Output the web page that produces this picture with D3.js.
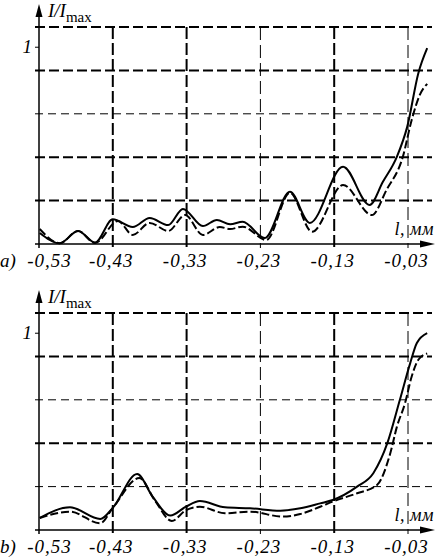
<!DOCTYPE html>
<html>
<head>
<meta charset="utf-8">
<script src="https://cdn.jsdelivr.net/npm/d3@7"></script>
<style>
    html, body { margin: 0; padding: 0; background: #fff; }
    svg text { font-family: "Liberation Serif", "Times New Roman", serif; fill: #000; }
</style>
</head>
<body>
<div id="chart"></div>
<script>
// axis ticks and grid levels
const xTicks = [-0.53, -0.43, -0.33, -0.23, -0.13, -0.03];
const yTicks = [1];
const gridLevels = [0.22, 0.44, 0.66, 0.88, 1.10];

// a) l (mm) vs I/Imax
const aSolidL = [-0.529, -0.502, -0.477, -0.454, -0.430, -0.403, -0.380, -0.355, -0.335, -0.308, -0.289, -0.271, -0.254, -0.224, -0.190, -0.163, -0.118, -0.082, -0.064, -0.045, -0.031, -0.016, -0.004];
const aSolidI = [0.056, 0.004, 0.066, 0.007, 0.125, 0.086, 0.132, 0.096, 0.178, 0.091, 0.122, 0.100, 0.113, 0.030, 0.265, 0.107, 0.392, 0.198, 0.315, 0.443, 0.595, 0.866, 0.993];
const aDashL = [-0.529, -0.502, -0.477, -0.454, -0.423, -0.403, -0.380, -0.355, -0.332, -0.308, -0.285, -0.271, -0.254, -0.222, -0.190, -0.160, -0.118, -0.079, -0.059, -0.037, -0.025, -0.014, -0.004];
const aDashI = [0.076, 0.004, 0.066, 0.005, 0.117, 0.046, 0.107, 0.066, 0.147, 0.046, 0.086, 0.076, 0.088, 0.020, 0.259, 0.062, 0.299, 0.147, 0.275, 0.442, 0.629, 0.756, 0.812];

// b)
const bSolidL = [-0.529, -0.488, -0.447, -0.430, -0.397, -0.376, -0.352, -0.331, -0.312, -0.278, -0.244, -0.203, -0.176, -0.149, -0.132, -0.099, -0.077, -0.058, -0.041, -0.027, -0.018, -0.004];
const bSolidI = [0.061, 0.115, 0.056, 0.112, 0.284, 0.169, 0.073, 0.118, 0.147, 0.115, 0.110, 0.098, 0.110, 0.135, 0.152, 0.220, 0.288, 0.440, 0.660, 0.846, 0.948, 0.998];
const bDashL = [-0.529, -0.488, -0.447, -0.430, -0.394, -0.373, -0.350, -0.331, -0.312, -0.278, -0.244, -0.200, -0.176, -0.149, -0.132, -0.099, -0.072, -0.054, -0.045, -0.034, -0.025, -0.016, -0.004];
const bDashI = [0.061, 0.093, 0.034, 0.112, 0.264, 0.150, 0.046, 0.100, 0.118, 0.085, 0.093, 0.068, 0.081, 0.118, 0.144, 0.186, 0.228, 0.389, 0.524, 0.643, 0.778, 0.863, 0.895];

const width = 436;
const height = 560;

const svg = d3.select('#chart')
    .append('svg')
    .attr('width', width)
    .attr('height', height);

const x = d3.scaleLinear()
    .domain([-0.53, -0.03])
    .range([39, 408]);

function drawPanel(p) {
    const y = d3.scaleLinear()
        .domain([0, 1.1])
        .range([p.bottom, p.bottom - 217]);

    const g = svg.append('g');

    // horizontal grid
    g.selectAll('line.hgrid')
        .data(gridLevels)
        .join('line')
        .attr('class', 'hgrid')
        .attr('x1', 35)
        .attr('x2', 432)
        .attr('y1', d => y(d))
        .attr('y2', d => y(d))
        .attr('stroke', '#000')
        .attr('stroke-width', (d, i) => p.heavyRows.includes(i) ? 2 : 1)
        .attr('stroke-dasharray', (d, i) => p.heavyRows.includes(i) ? '10,4' : '8,5');

    // vertical grid
    const heavyCols = [-0.43, -0.33, -0.13];
    g.selectAll('line.vgrid')
        .data(xTicks.slice(1))
        .join('line')
        .attr('class', 'vgrid')
        .attr('x1', d => x(d))
        .attr('x2', d => x(d))
        .attr('y1', y(1.1))
        .attr('y2', y(0) + 4)
        .attr('stroke', '#000')
        .attr('stroke-width', d => heavyCols.includes(d) ? 2 : 1)
        .attr('stroke-dasharray', d => heavyCols.includes(d) ? '12,4' : '13,5');

    // axes with arrows
    g.append('line')
        .attr('x1', 35).attr('x2', 424)
        .attr('y1', y(0)).attr('y2', y(0))
        .attr('stroke', '#000').attr('stroke-width', 1.5);
    g.append('path')
        .attr('d', `M435,${y(0)} L420,${y(0) - 3.5} L420,${y(0) + 3.5} Z`)
        .attr('fill', '#000');

    const tip = p.bottom - 240;
    g.append('line')
        .attr('x1', x(-0.53)).attr('x2', x(-0.53))
        .attr('y1', y(0) + 4).attr('y2', tip + 10)
        .attr('stroke', '#000').attr('stroke-width', 1.5);
    g.append('path')
        .attr('d', `M${x(-0.53)},${tip} L${x(-0.53) - 3.5},${tip + 13} L${x(-0.53) + 3.5},${tip + 13} Z`)
        .attr('fill', '#000');

    // x tick labels
    const xAxis = g.append('g')
        .attr('transform', `translate(0,${y(0)})`)
        .call(d3.axisBottom(x)
            .tickValues(xTicks)
            .tickSize(0)
            .tickPadding(10)
            .tickFormat(d => d.toFixed(2).replace('.', ',')));
    xAxis.select('.domain').remove();
    xAxis.selectAll('text')
        .attr('font-style', 'italic')
        .attr('font-size', 19)
        .attr('dy', 13)
        .attr('dx', (d, i) => i === 0 ? 10 : -2)
        .attr('letter-spacing', 1);

    // y tick
    const yAxis = g.append('g')
        .attr('transform', `translate(${x(-0.53)},0)`)
        .call(d3.axisLeft(y).tickValues(yTicks).tickSize(4).tickPadding(3).tickFormat(d3.format('d')));
    yAxis.select('.domain').remove();
    yAxis.selectAll('text')
        .attr('font-style', 'italic')
        .attr('font-size', 19);

    // curves
    const line = d3.line()
        .x(d => x(d[0]))
        .y(d => y(d[1]))
        .curve(d3.curveMonotoneX);

    g.append('path')
        .datum(d3.zip(p.dashL, p.dashI))
        .attr('d', line)
        .attr('fill', 'none')
        .attr('stroke', '#000')
        .attr('stroke-width', 2)
        .attr('stroke-dasharray', '8,3');

    g.append('path')
        .datum(d3.zip(p.solidL, p.solidI))
        .attr('d', line)
        .attr('fill', 'none')
        .attr('stroke', '#000')
        .attr('stroke-width', 2);

    // labels
    const yl = g.append('text')
        .attr('x', 48)
        .attr('y', p.bottom - 227);
    yl.append('tspan').attr('font-style', 'italic').attr('font-size', 19).text('I/I');
    yl.append('tspan').attr('font-size', 15).attr('dy', 5).text('max');

    g.append('text')
        .attr('x', 434)
        .attr('y', p.bottom - 9)
        .attr('text-anchor', 'end')
        .attr('font-style', 'italic')
        .attr('font-size', 18)
        .attr('letter-spacing', 0.5)
        .text('l, мм');

    g.append('text')
        .attr('x', 0)
        .attr('y', p.bottom + 23)
        .attr('font-style', 'italic')
        .attr('font-size', 19)
        .text(p.tag);
}

drawPanel({ bottom: 244, tag: 'a)', heavyRows: [0, 1, 3, 4],
    solidL: aSolidL, solidI: aSolidI, dashL: aDashL, dashI: aDashI });
drawPanel({ bottom: 530, tag: 'b)', heavyRows: [1, 3, 4],
    solidL: bSolidL, solidI: bSolidI, dashL: bDashL, dashI: bDashI });
</script>
</body>
</html>
